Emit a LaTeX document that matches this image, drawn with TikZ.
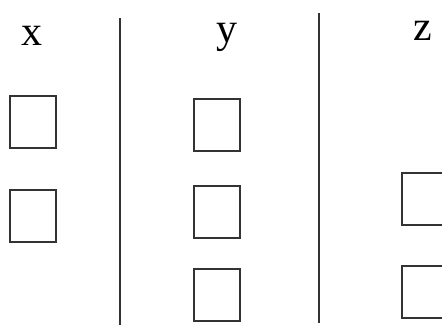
\documentclass[tikz,border=0pt]{standalone}
\usepackage{fontspec}
\setmainfont{Liberation Serif}
\usetikzlibrary{positioning}

\begin{document}
\begin{tikzpicture}[
        x=1pt,y=-1pt,
        head/.style={anchor=base,inner sep=0pt,font=\fontsize{42}{46}\selectfont},
        tick/.style={draw=black!80,line width=2pt,minimum width=46pt,minimum height=52pt,
          inner sep=0pt},
        rule/.style={draw=black!80,line width=2pt}
      ]
        \useasboundingbox (0,0) rectangle (442,325);
        \clip (0,0) rectangle (442,325);
        \node[head] (hx) at (32,45) {x};
        \node[head] (hy) at (227,42) {y};
        \node[head] (hz) at (423,40) {z};
        \node[tick] (x1) at (32.5,122) {};
        \node[tick] (x2) at (32.5,216) {};
        \node[tick] (y1) at (217,124.5) {};
        \node[tick] (y2) at (217,211.5) {};
        \node[tick] (y3) at (217,295) {};
        \node[tick] (z1) at (424.5,198.5) {};
        \node[tick] (z2) at (424.5,292) {};
        \draw[rule] (119.5,18) -- (119.5,325);
        \draw[rule] (319,13) -- (319,323);
      \end{tikzpicture}
\end{document}
